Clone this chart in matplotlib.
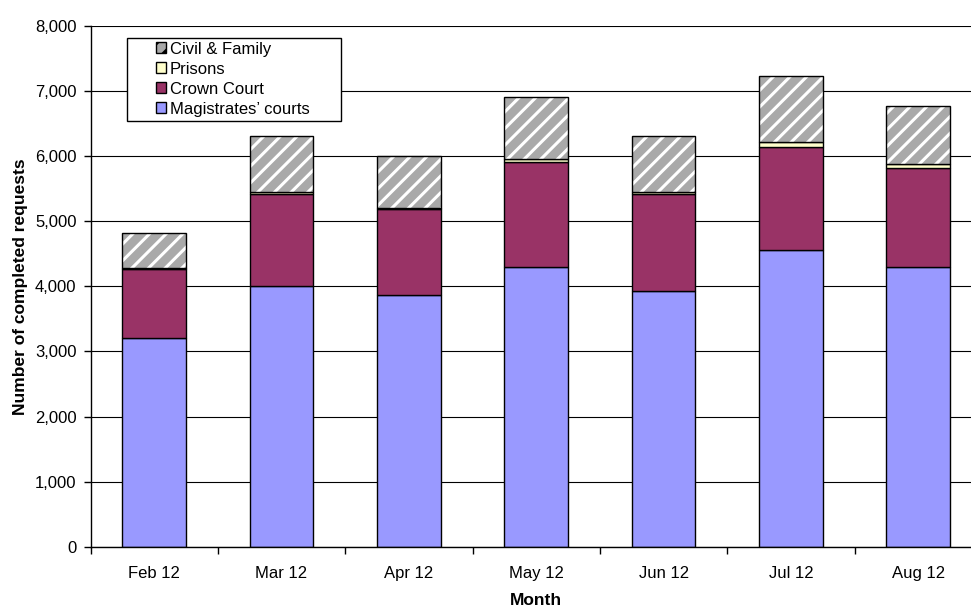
import matplotlib
matplotlib.use("Agg")
import matplotlib.pyplot as plt
import numpy as np
from matplotlib.ticker import FuncFormatter, MultipleLocator
from matplotlib.patches import Patch, Rectangle

plt.rcParams['font.family'] = ['Liberation Sans', 'DejaVu Sans']
plt.rcParams['hatch.linewidth'] = 2.2

months = ["Feb 12", "Mar 12", "Apr 12", "May 12", "Jun 12", "Jul 12", "Aug 12"]
magistrates = [3210, 4010, 3860, 4300, 3920, 4550, 4290]
crown = [1060, 1400, 1320, 1600, 1500, 1580, 1520]
prisons = [15, 30, 20, 50, 30, 90, 70]
civil = [535, 860, 800, 950, 850, 1000, 890]

c_mag = "#9999FF"
c_crown = "#993366"
c_pris = "#FFFFCC"
c_civil = "#A9A9A9"

fig = plt.figure(figsize=(9.71, 6.06), dpi=100)
ax = fig.add_axes([90.5 / 971, 59 / 606, (982 - 90.5) / 971, 521.5 / 606])

x = np.arange(len(months))
w = 0.5
mag = np.array(magistrates)
cr = np.array(crown)
pr = np.array(prisons)
cv = np.array(civil)

ax.bar(x, mag, w, color=c_mag, edgecolor="black", linewidth=1.0, zorder=3)
ax.bar(x, cr, w, bottom=mag, color=c_crown, edgecolor="black", linewidth=1.0, zorder=3)
ax.bar(x, pr, w, bottom=mag + cr, color=c_pris, edgecolor="black", linewidth=1.0, zorder=3)
# hatched fill with white stripes, then a black outline on top
ax.bar(x, cv, w, bottom=mag + cr + pr, color=c_civil, edgecolor="white",
       hatch="//", linewidth=0, zorder=3)
ax.bar(x, cv, w, bottom=mag + cr + pr, fill=False, edgecolor="black",
       linewidth=1.0, zorder=4)

ax.set_xlim(-0.5, len(months) - 0.5)
ax.set_ylim(0, 8000)
ax.yaxis.set_major_locator(MultipleLocator(1000))
ax.yaxis.set_major_formatter(FuncFormatter(lambda v, p: f"{int(v):,}"))
ax.grid(axis="y", color="black", linewidth=0.8, zorder=0)

ax.set_xticks(x)
ax.set_xticklabels(months)
ax.set_xticks(np.arange(-0.5, len(months), 1.0), minor=True)
ax.tick_params(axis="x", which="major", length=0, pad=14, labelsize=12)
ax.tick_params(axis="x", which="minor", length=5, width=1.0, direction="out")
ax.tick_params(axis="y", length=5, width=1.0, direction="out", pad=5, labelsize=12)

for s in ["top", "right"]:
    ax.spines[s].set_visible(False)
for s in ["left", "bottom"]:
    ax.spines[s].set_linewidth(1.0)
    ax.spines[s].set_zorder(5)

ax.set_xlabel("Month", fontweight="bold", fontsize=12.5, labelpad=8)
ax.set_ylabel("Number of completed requests", fontweight="bold", fontsize=12.5, labelpad=5)

# legend box drawn separately so its width can be fixed
box = Rectangle((0.041, 0.817), 0.240, 0.159, transform=ax.transAxes,
                facecolor="white", edgecolor="black", linewidth=1.0, zorder=6)
ax.add_patch(box)

handles = [
    Patch(facecolor=c_civil, edgecolor="black", hatch="//", label="Civil & Family"),
    Patch(facecolor=c_pris, edgecolor="black", label="Prisons"),
    Patch(facecolor=c_crown, edgecolor="black", label="Crown Court"),
    Patch(facecolor=c_mag, edgecolor="black", label="Magistrates\u2019 courts"),
]
leg = ax.legend(handles=handles, loc="upper left", bbox_to_anchor=(0.073, 0.969),
                frameon=False, fontsize=12, handlelength=0.6, handleheight=0.6,
                handletextpad=0.25, labelspacing=0.3, borderpad=0, borderaxespad=0)
leg.set_zorder(7)

fig.savefig("out.png", dpi=100)
